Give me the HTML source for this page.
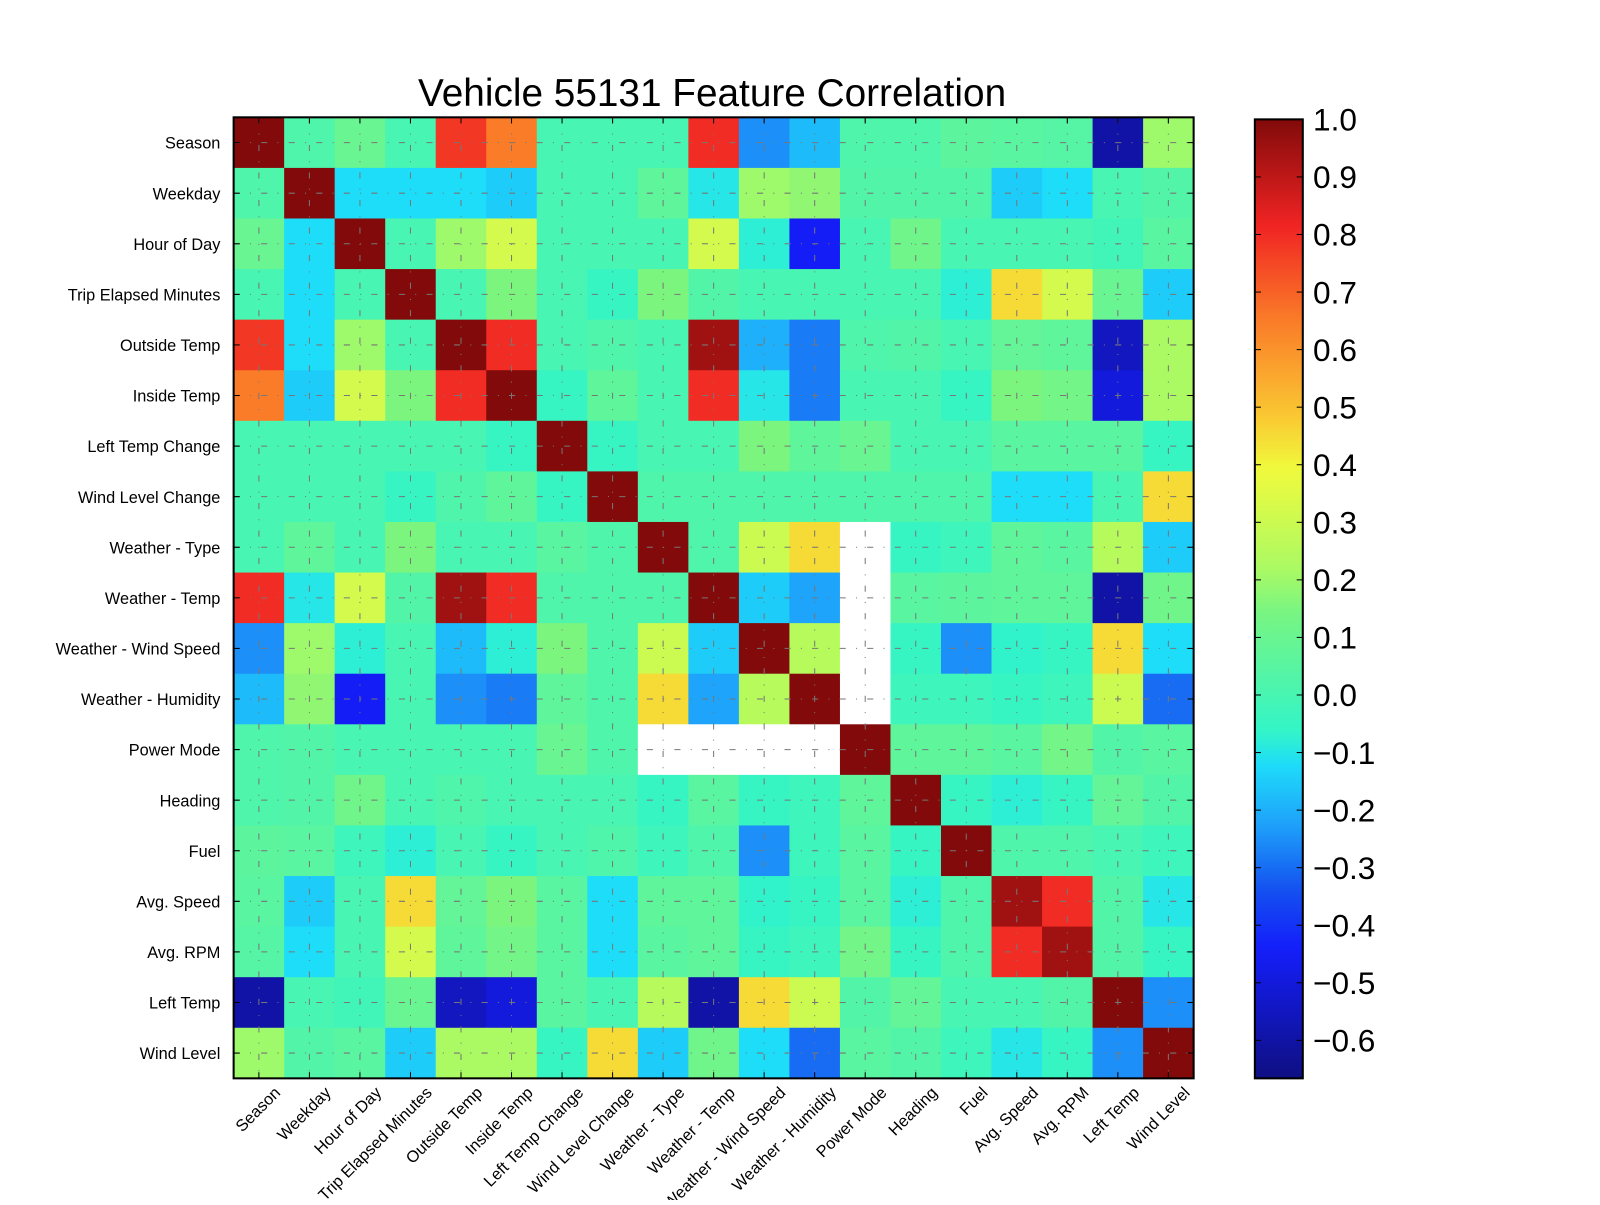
<!DOCTYPE html>
<html><head><meta charset="utf-8"><style>
body{margin:0;background:#fff;width:1600px;height:1200px;overflow:hidden}
svg{font-family:"Liberation Sans",sans-serif}
</style></head><body>
<svg id="chart" width="1600" height="1200" viewBox="0 0 1600 1200">
<defs><linearGradient id="cbgrad" x1="0" y1="1" x2="0" y2="0"></linearGradient></defs>
<g transform="scale(1.0202)">
<text x="698" y="104" font-size="38" text-anchor="middle">Vehicle 55131 Feature Correlation</text>
<g id="cells"></g><g id="grid"></g><g id="ylabels"></g><g id="xlabels"></g>
<rect x="229" y="115" width="941" height="942" fill="none" stroke="#000" stroke-width="2"/>
<rect x="1230" y="117" width="47" height="940" fill="url(#cbgrad)" stroke="#000" stroke-width="2"/>
<g id="cbticks"></g>
</g>
</svg>
<script>
const features=["Season","Weekday","Hour of Day","Trip Elapsed Minutes","Outside Temp","Inside Temp","Left Temp Change","Wind Level Change","Weather - Type","Weather - Temp","Weather - Wind Speed","Weather - Humidity","Power Mode","Heading","Fuel","Avg. Speed","Avg. RPM","Left Temp","Wind Level"];
const N=null;
const corr=[
[1,0.02,0.1,0,0.78,0.65,0,0,0,0.8,-0.25,-0.18,0.02,0.02,0.06,0.05,0.04,-0.6,0.2],
[0.02,1,-0.12,-0.12,-0.12,-0.15,0,0,0.07,-0.1,0.2,0.18,0.03,0.03,0.03,-0.15,-0.12,0,0.03],
[0.1,-0.12,1,0,0.2,0.32,0,0,0,0.32,-0.08,-0.45,0,0.12,0,0,0,-0.02,0.05],
[0,-0.12,0,1,0,0.15,0,-0.05,0.15,0.03,0,0,0,0,-0.08,0.45,0.32,0.1,-0.15],
[0.78,-0.12,0.2,0,1,0.8,0,0.02,0,0.95,-0.2,-0.28,0.02,0.03,0,0.08,0.07,-0.55,0.22],
[0.65,-0.15,0.32,0.15,0.8,1,-0.05,0.07,0,0.8,-0.1,-0.28,0,0,-0.05,0.15,0.13,-0.5,0.22],
[0,0,0,0,0,-0.05,1,-0.05,0,0,0.15,0.07,0.1,0,0,0.05,0.05,0.05,-0.05],
[0,0,0,-0.05,0.02,0.07,-0.05,1,0.02,0.02,0.02,0.02,0.02,0.02,0.02,-0.12,-0.12,0,0.45],
[0,0.07,0,0.15,0,0,0.05,0.02,1,0.02,0.3,0.45,N,-0.05,-0.03,0.07,0.05,0.25,-0.15],
[0.8,-0.1,0.32,0.03,0.95,0.8,0.02,0.02,0.02,1,-0.15,-0.22,N,0.05,0.06,0.07,0.07,-0.6,0.12],
[-0.25,0.2,-0.08,0,-0.18,-0.08,0.15,0.02,0.3,-0.15,1,0.25,N,-0.05,-0.25,-0.07,-0.05,0.45,-0.12],
[-0.18,0.18,-0.45,0,-0.25,-0.28,0.07,0.02,0.45,-0.22,0.25,1,N,-0.03,-0.03,-0.05,-0.03,0.3,-0.3],
[0.02,0.03,0,0,0,0,0.1,0.02,N,N,N,N,1,0.07,0.07,0.05,0.13,0.03,0.05],
[0.02,0.03,0.12,0,0.02,0,0,0,-0.05,0.05,-0.05,-0.03,0.07,1,-0.05,-0.08,-0.05,0.08,0.03],
[0.06,0.05,-0.03,-0.08,0,-0.05,0,0.02,-0.03,0.02,-0.25,-0.03,0.05,-0.05,1,0.02,0.02,0,-0.03],
[0.05,-0.15,0,0.45,0.08,0.15,0.05,-0.12,0.07,0.07,-0.07,-0.05,0.05,-0.08,0.02,0.95,0.8,0.03,-0.1],
[0.04,-0.12,0,0.32,0.07,0.13,0.05,-0.12,0.05,0.07,-0.05,-0.03,0.13,-0.05,0.02,0.8,0.95,0.03,-0.05],
[-0.6,0,-0.02,0.1,-0.55,-0.5,0.05,0,0.25,-0.6,0.45,0.3,0.03,0.08,0,0,0.03,1,-0.25],
[0.2,0.03,0.05,-0.15,0.22,0.22,-0.05,0.45,-0.15,0.12,-0.12,-0.3,0.05,0.03,-0.03,-0.1,-0.05,-0.25,1]];
const cbTicks=[1.0,0.9,0.8,0.7,0.6,0.5,0.4,0.3,0.2,0.1,0.0,-0.1,-0.2,-0.3,-0.4,-0.5,-0.6];
const vmin=-0.666,vmax=1.0;
const cmapT=[0,0.135,0.196,0.263,0.327,0.36,0.486,0.53,0.635,0.69,0.795,0.89,1];
const cmapC=[[15,15,130],[20,30,250],[20,80,240],[30,160,250],[30,220,250],[50,245,200],[120,245,130],[170,250,100],[240,250,60],[250,200,50],[250,120,40],[240,35,35],[130,10,10]];
const NS="http://www.w3.org/2000/svg";
const X0=229,Y0=115,W=941,H=942,n=features.length,cw=W/n,ch=H/n;
function cmap(t){t=Math.max(0,Math.min(1,t));
 for(let k=1;k<cmapT.length;k++){if(t<=cmapT[k]){const f=(t-cmapT[k-1])/(cmapT[k]-cmapT[k-1]);const a=cmapC[k-1],b=cmapC[k];
 return `rgb(${Math.round(a[0]+(b[0]-a[0])*f)},${Math.round(a[1]+(b[1]-a[1])*f)},${Math.round(a[2]+(b[2]-a[2])*f)})`;}}
 return 'rgb(130,10,10)';}
function color(v){return cmap((v-vmin)/(vmax-vmin));}
function xs(i){return X0+i*cw;} function ys(j){return Y0+j*ch;}
function mk(tag,attrs,parent){const e=document.createElementNS(NS,tag);for(const k in attrs)e.setAttribute(k,attrs[k]);parent.appendChild(e);return e;}
const cells=document.getElementById('cells');
corr.forEach((row,j)=>row.forEach((v,i)=>{
 const r=mk('rect',{x:xs(i),y:ys(j),width:cw+0.6,height:ch+0.6,fill:v===null?'#fff':color(v)},cells);
 
 
}));
const grid=document.getElementById('grid');
for(let i=0;i<n;i++){
 const c=xs(i)+cw/2;
 const l=mk('line',{x1:c,y1:Y0,x2:c,y2:Y0+H,stroke:'#777','stroke-width':1,'stroke-dasharray':'6 10 1 10'},grid);
 
 
 const r=ys(i)+ch/2;
 const h=mk('line',{x1:X0,y1:r,x2:X0+W,y2:r,stroke:'#777','stroke-width':1,'stroke-dasharray':'6 10 1 10'},grid);
 
 
 mk('line',{x1:c,y1:Y0,x2:c,y2:Y0+6,stroke:'#000'},grid);
 mk('line',{x1:c,y1:Y0+H,x2:c,y2:Y0+H-6,stroke:'#000'},grid);
 mk('line',{x1:X0,y1:r,x2:X0+6,y2:r,stroke:'#000'},grid);
 mk('line',{x1:X0+W,y1:r,x2:X0+W-6,y2:r,stroke:'#000'},grid);
}
const yl=document.getElementById('ylabels'),xl=document.getElementById('xlabels');
features.forEach((f,i)=>{
 const t=mk('text',{x:216,y:ys(i)+ch/2+6,'font-size':16,'text-anchor':'end'},yl);t.textContent=f;
 
 
 const cx=xs(i)+cw/2+22,cy=1072;
 const u=mk('text',{x:cx,y:cy,'font-size':16,'text-anchor':'end',transform:`rotate(-45 ${cx} ${cy})`},xl);u.textContent=f;
 
 
});
const grad=document.getElementById('cbgrad');
for(let k=0;k<=80;k++){mk('stop',{offset:(k/80),'stop-color':cmap(k/80)},grad);}
const cb=document.getElementById('cbticks');
cbTicks.forEach(v=>{
 const y=117+(vmax-v)/(vmax-vmin)*940;
 mk('line',{x1:1230,y1:y,x2:1236,y2:y,stroke:'#000'},cb);
 mk('line',{x1:1271,y1:y,x2:1277,y2:y,stroke:'#000'},cb);
 const t=mk('text',{x:1287,y:y+11,'font-size':31},cb);
 t.textContent=(v<0?'\u2212':'')+Math.abs(v).toFixed(1);
 
 
});
</script>
</body></html>
